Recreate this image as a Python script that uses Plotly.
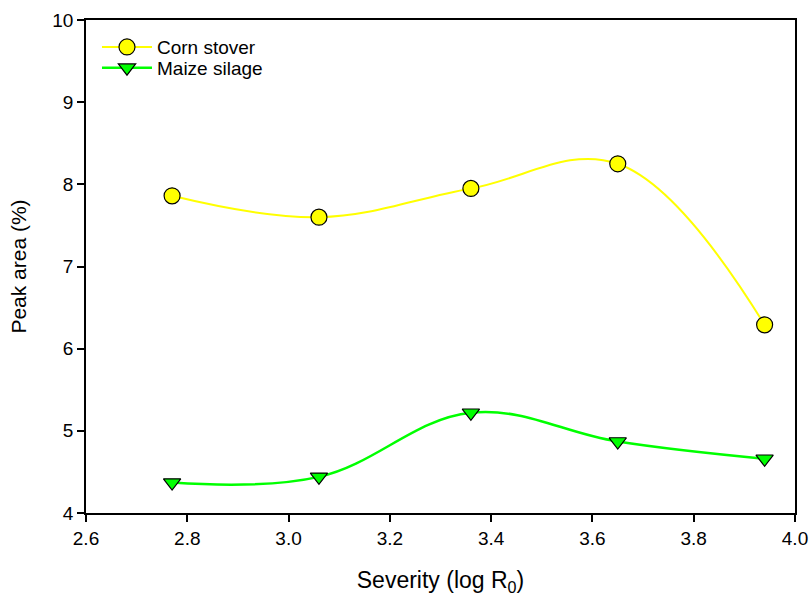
import plotly.graph_objects as go

# Pretreatment severity values and peak areas
severity = [2.77, 3.06, 3.36, 3.65, 3.94]
corn_stover = [7.86, 7.60, 7.95, 8.25, 6.29]
maize_silage = [4.37, 4.44, 5.22, 4.87, 4.66]

x_ticks = [2.6, 2.8, 3.0, 3.2, 3.4, 3.6, 3.8, 4.0]
y_ticks = [4, 5, 6, 7, 8, 9, 10]

FONT = "Liberation Sans, Arial"

fig = go.Figure()
fig.add_trace(go.Scatter(
    x=severity, y=corn_stover, name="Corn stover", legend="legend",
    mode="lines+markers",
    line=dict(color="#FFFF00", width=2, shape="spline", smoothing=1.1),
    marker=dict(symbol="circle", size=16, color="#FFFF00",
                line=dict(color="black", width=1.2)),
))
fig.add_trace(go.Scatter(
    x=severity, y=maize_silage, name="Maize silage", legend="legend2",
    mode="lines+markers",
    line=dict(color="#00FF00", width=2.5, shape="spline", smoothing=1.1),
    marker=dict(symbol="triangle-down", size=15, color="#00FF00",
                line=dict(color="black", width=1.2)),
))

axis_common = dict(
    showline=True, linecolor="black", linewidth=1.5, mirror=True,
    ticks="outside", ticklen=7, tickwidth=1.5, tickcolor="black",
    showgrid=False, zeroline=False, automargin=False,
    tickfont=dict(family=FONT, size=19, color="black"),
)

fig.update_xaxes(
    range=[2.6, 4.0], tickvals=x_ticks,
    ticktext=[f"{v:.1f}" for v in x_ticks],
    title=dict(text="Severity (log R<sub>0</sub>)", standoff=26,
               font=dict(family=FONT, size=23, color="black")),
    **axis_common,
)
fig.update_yaxes(
    range=[4, 10], tickvals=y_ticks,
    title=dict(text="Peak area (%)", standoff=20,
               font=dict(family=FONT, size=21, color="black")),
    **axis_common,
)

legend_common = dict(
    xanchor="left", yanchor="middle",
    bgcolor="rgba(0,0,0,0)", borderwidth=0,
    font=dict(family=FONT, size=19, color="black"),
    itemwidth=50,
)

fig.update_layout(
    width=810, height=596,
    margin=dict(l=86, r=15, t=20, b=83),
    plot_bgcolor="white", paper_bgcolor="white",
    showlegend=True,
    legend=dict(x=0.0155, y=0.945, **legend_common),
    legend2=dict(x=0.0155, y=0.903, **legend_common),
)

fig.write_html("out.html")
